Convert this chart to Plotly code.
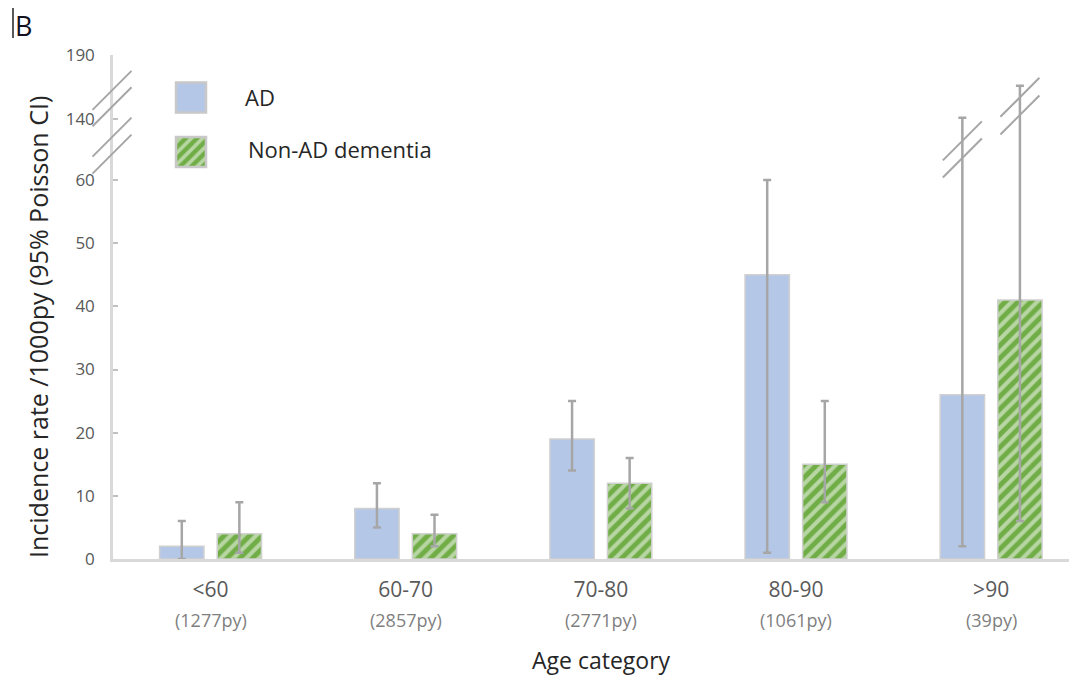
import numpy as np
import plotly.graph_objects as go

# ---------------- data ----------------
categories = ["<60", "60-70", "70-80", "80-90", ">90"]
person_years = ["(1277py)", "(2857py)", "(2771py)", "(1061py)", "(39py)"]
ad_rate = [2, 8, 19, 45, 26]
ad_lo = [0, 5, 14, 1, 2]
ad_hi = [6, 12, 25, 60, 141]
nonad_rate = [4, 4, 12, 15, 41]
nonad_lo = [1, 2, 8, 9, 6]
nonad_hi = [9, 7, 16, 25, 166]
ytick_vals = [0, 10, 20, 30, 40, 50, 60, 140, 190]

# ---------------- broken-axis mapping (style) ----------------
REAL = [0, 60, 140, 190]
DISP = [0, 60, 69.66, 79.8]


def T(v):
    return np.interp(np.asarray(v, dtype=float), REAL, DISP)


OFF = 8  # page body margin
W, H = 1077, 676
ML, MT = 105, 47
PW, PH = 964, 504
MR = W - ML - PW
MB = H - MT - PH
XMAX = 4.44


def px2paper_x(px):
    return (px - OFF - ML) / PW


def px2paper_y(py):
    return (MT + PH - (py - OFF)) / PH


x = list(range(len(categories)))
AD_COLOR = "#b4c7e7"
GREEN = "#70ad47"
EDGE = "#d0d0d0"
ERR = "#a6a6a6"
FONT = "Open Sans"


def err(rate, lo, hi):
    r, l, h = T(rate), T(lo), T(hi)
    return dict(type="data", symmetric=False, array=list(h - r), arrayminus=list(r - l),
                color=ERR, thickness=2.5, width=4)


fig = go.Figure()
fig.add_trace(go.Bar(
    x=x, y=list(T(ad_rate)), name="AD",
    marker=dict(color=AD_COLOR, line=dict(color=EDGE, width=1.5)),
    error_y=err(ad_rate, ad_lo, ad_hi), showlegend=False))
fig.add_trace(go.Bar(
    x=x, y=list(T(nonad_rate)), name="Non-AD dementia",
    marker=dict(color=GREEN, line=dict(color=EDGE, width=1.5),
                pattern=dict(shape="/", bgcolor=GREEN, fgcolor="white", size=9, solidity=0.45)),
    error_y=err(nonad_rate, nonad_lo, nonad_hi), showlegend=False))

# legend swatches drawn as bars on tiny invisible axes
SW = 30
for i, (cx, cy, color, pattern) in enumerate([
        (191, 97.5, AD_COLOR, None),
        (191, 152, GREEN, dict(shape="/", bgcolor=GREEN, fgcolor="white", size=8, solidity=0.45))]):
    n = i + 2
    half = SW * 1.2 / 2
    fig.add_trace(go.Bar(
        x=[0], y=[1], width=[1], offset=-0.5, xaxis=f"x{n}", yaxis=f"y{n}",
        marker=dict(color=color, line=dict(color="#c8c8c8", width=2.5),
                    pattern=pattern if pattern else dict(shape="")),
        showlegend=False, hoverinfo="skip"))
    fig.update_layout(**{
        f"xaxis{n}": dict(domain=[px2paper_x(cx - half), px2paper_x(cx + half)], range=[-0.6, 0.6],
                          visible=False, fixedrange=True, anchor=f"y{n}"),
        f"yaxis{n}": dict(domain=[px2paper_y(cy + half), px2paper_y(cy - half)], range=[-0.1, 1.1],
                          visible=False, fixedrange=True, anchor=f"x{n}"),
    })

annotations = [
    dict(text="AD", x=px2paper_x(243), y=px2paper_y(97), xref="paper", yref="paper",
         xanchor="left", yanchor="middle", showarrow=False, font=dict(size=22, color="#262626", family=FONT)),
    dict(text="Non-AD dementia", x=px2paper_x(246), y=px2paper_y(149), xref="paper", yref="paper",
         xanchor="left", yanchor="middle", showarrow=False, font=dict(size=22, color="#262626", family=FONT)),
    dict(text="Incidence rate /1000py (95% Poisson CI)", x=px2paper_x(38), y=px2paper_y(327),
         xref="paper", yref="paper", xanchor="center", yanchor="middle", textangle=-90, showarrow=False,
         font=dict(size=25, color="#262626", family=FONT)),
    dict(text="Age category", x=px2paper_x(601), y=px2paper_y(660), xref="paper", yref="paper",
         xanchor="center", yanchor="middle",
         showarrow=False, font=dict(size=23, color="#262626", family=FONT)),
    dict(text="B", x=px2paper_x(13), y=px2paper_y(26), xref="paper", yref="paper",
         xanchor="left", yanchor="middle", showarrow=False, font=dict(size=27, color="#111122", family=FONT)),
]
for xi, lab in zip(x, person_years):
    annotations.append(dict(text=lab, x=xi, y=px2paper_y(620), xref="x", yref="paper",
                            xanchor="center", yanchor="middle",
                            showarrow=False, font=dict(size=18, color="#7f7f7f", family=FONT)))

# break marks
shapes = []
SL = 19.5  # half extent in px
DY = SL / (PH / DISP[-1])

for cy in (74.2, 71.6, 66.8, 64.1):
    cxp = px2paper_x(112)
    shapes.append(dict(type="line", xref="paper", yref="y", x0=cxp - SL / PW, x1=cxp + SL / PW,
                       y0=cy - DY, y1=cy + DY, line=dict(color=ERR, width=2)))

unit = PW / (XMAX + 0.5)
slot = (1 - 0.41) / 2
for off, cys in ((-slot / 2, (66.2, 63.5)), (slot / 2, (73.1, 70.3))):
    cx = 4 + off
    for cy in cys:
        shapes.append(dict(type="line", xref="x", yref="y", x0=cx - SL / unit, x1=cx + SL / unit,
                           y0=cy - DY, y1=cy + DY, line=dict(color=ERR, width=2)))

shapes.append(dict(type="line", xref="paper", yref="paper", x0=px2paper_x(13), x1=px2paper_x(13),
                   y0=px2paper_y(7), y1=px2paper_y(38), line=dict(color="#222", width=1.5)))

fig.update_layout(
    width=W, height=H, margin=dict(l=ML, r=MR, t=MT, b=MB),
    paper_bgcolor="white", plot_bgcolor="white",
    barmode="group", bargap=0.41, bargroupgap=0.23,
    font=dict(family=FONT),
    xaxis=dict(range=[-0.5, XMAX], tickvals=x, ticktext=categories, showline=True,
               linecolor="#d9d9d9", linewidth=2.5, ticks="", showgrid=False, zeroline=False,
               tickfont=dict(size=21, color="#595959", family=FONT), ticklabelstandoff=10,
               fixedrange=True),
    yaxis=dict(range=[0, DISP[-1]], tickvals=list(T(ytick_vals)), ticktext=[str(v) for v in ytick_vals],
               showline=True, linecolor="#d9d9d9", linewidth=2.5, ticks="inside", ticklen=5,
               tickcolor="#c0c0c0", tickwidth=1.5, showgrid=False, zeroline=False,
               tickfont=dict(size=17, color="#595959", family=FONT), ticklabelstandoff=12,
               fixedrange=True),
    annotations=annotations, shapes=shapes,
)

fig.write_html("out.html")
